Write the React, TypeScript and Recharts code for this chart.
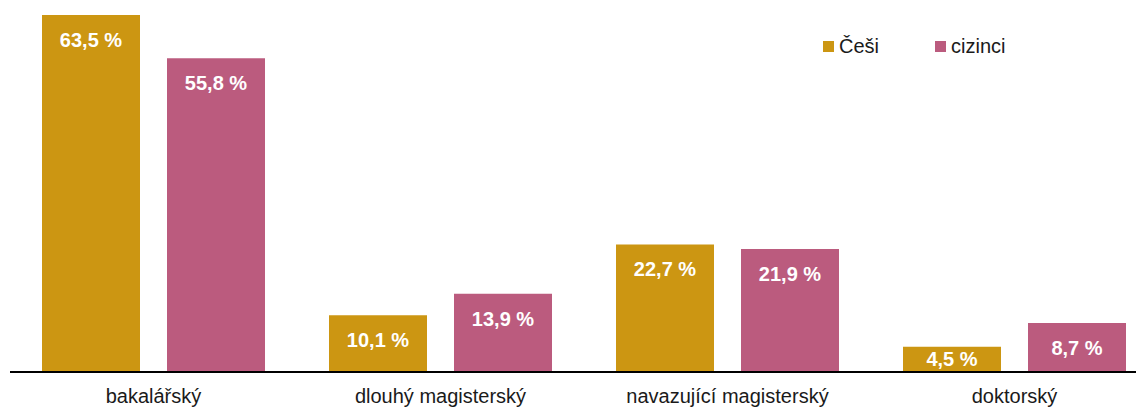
import React from "react";
import { BarChart, Bar, XAxis, YAxis, Legend, LabelList } from "recharts";

const categories = ["bakalářský", "dlouhý magisterský", "navazující magisterský", "doktorský"];
const cesi = [63.5, 10.1, 22.7, 4.5];
const cizinci = [55.8, 13.9, 21.9, 8.7];
const seriesNames = ["Češi", "cizinci"];
const colors = ["#CC9612", "#BB5B7E"];

const data = categories.map((c, i) => ({ name: c, cesi: cesi[i], cizinci: cizinci[i] }));

const FONT = "'Liberation Sans', Arial, sans-serif";

const fmt = (v: number) => v.toFixed(1).replace(".", ",") + " %";

const BarLabel = (props: any) => {
  const { x, y, width, height, value } = props;
  const off = Math.min(25, height / 2);
  return (
    <text
      x={x + width / 2}
      y={y + off}
      textAnchor="middle"
      dominantBaseline="central"
      fill="#ffffff"
      fontWeight="bold"
      fontSize={20}
      fontFamily={FONT}
    >
      {fmt(value)}
    </text>
  );
};

const CatTick = (props: any) => {
  const { x, y, payload } = props;
  return (
    <text x={x} y={y + 31} textAnchor="middle" fill="#1a1a1a" fontSize={20} fontFamily={FONT}>
      {payload.value}
    </text>
  );
};

const LegendContent = () => (
  <div style={{ position: "relative", height: 0, overflow: "visible" }}>
    <div style={{ position: "absolute", top: 0, left: 0, display: "flex", alignItems: "center", fontFamily: FONT, fontSize: 20, color: "#1a1a1a", whiteSpace: "nowrap" }}>
      {seriesNames.map((n, i) => (
        <div key={n} style={{ display: "flex", alignItems: "center", width: 112 }}>
          <span style={{ display: "inline-block", width: 11, height: 11, background: colors[i], marginRight: 5 }} />
          <span>{n}</span>
        </div>
      ))}
    </div>
  </div>
);

export default function App() {
  return (
    <div style={{ width: 1136, height: 400, overflow: "hidden" }}>
      <BarChart
        width={1150}
        height={400}
        data={data}
        margin={{ top: 7, right: 0, bottom: 0, left: 2 }}
        barCategoryGap={32}
        barGap={27}
      >
        <XAxis
          dataKey="name"
          axisLine={{ stroke: "#000", strokeWidth: 2 }}
          tickLine={false}
          tickSize={0}
          tickMargin={0}
          height={36}
          tick={<CatTick />}
          interval={0}
        />
        <YAxis hide domain={[0, 63.5]} allowDataOverflow />
        <Legend
          content={<LegendContent />}
          wrapperStyle={{ position: "absolute", top: 27, left: 815, width: 260, height: 0 }}
        />
        <Bar dataKey="cesi" name={seriesNames[0]} fill={colors[0]} isAnimationActive={false}>
          <LabelList dataKey="cesi" content={<BarLabel />} />
        </Bar>
        <Bar dataKey="cizinci" name={seriesNames[1]} fill={colors[1]} isAnimationActive={false}>
          <LabelList dataKey="cizinci" content={<BarLabel />} />
        </Bar>
      </BarChart>
    </div>
  );
}
